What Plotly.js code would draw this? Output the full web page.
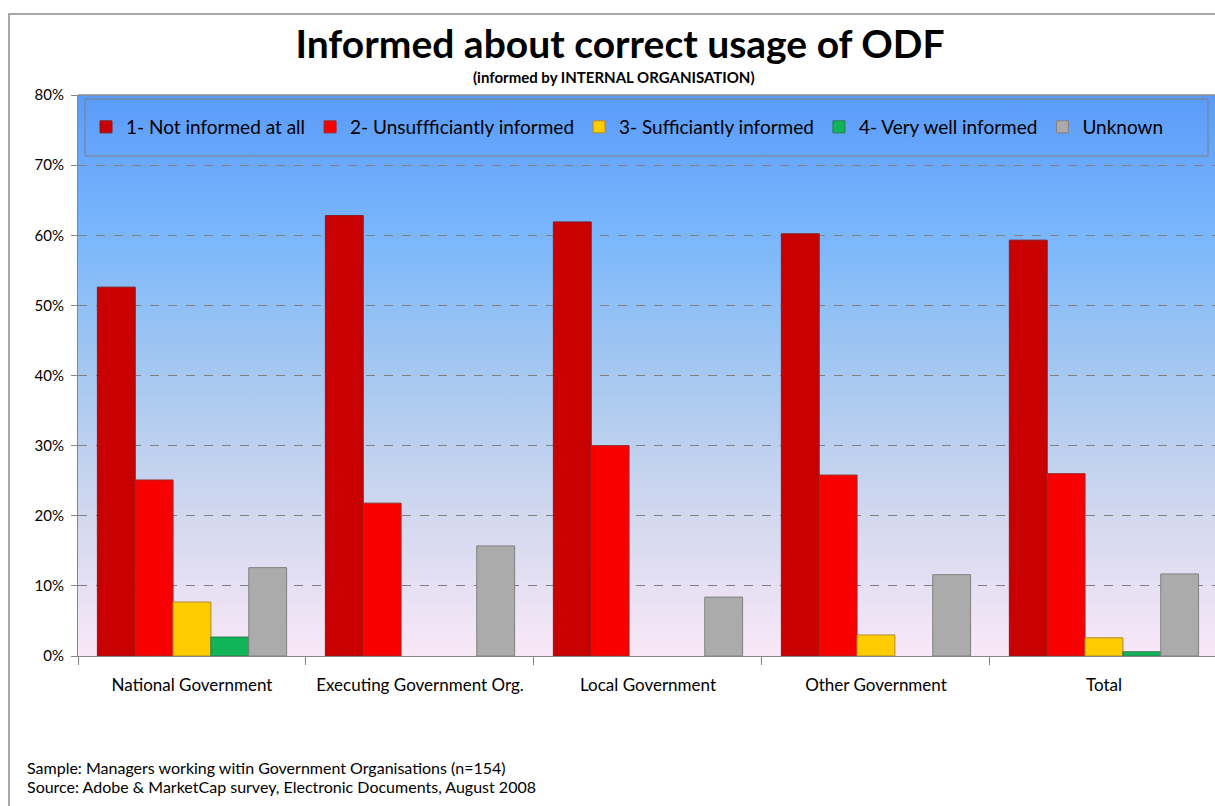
<!DOCTYPE html>
<html>
<head>
<meta charset="utf-8">
<script src="https://cdn.plot.ly/plotly-3.0.1.min.js"></script>
<style>html,body{margin:0;padding:0;background:#fff;}#chart{width:1215px;height:806px;}</style>
</head>
<body>
<div id="chart"></div>
<script>
const categories = ["National Government", "Executing Government Org.", "Local Government", "Other Government", "Total"];
const seriesNames = ["1- Not informed at all", "2- Unsuffficiantly informed", "3- Sufficiantly informed", "4- Very well informed", "Unknown"];
const notInformed = [52.6, 62.8, 61.9, 60.2, 59.3];
const insufficient = [25.1, 21.8, 30.0, 25.8, 26.0];
const sufficient = [7.7, null, null, 3.0, 2.6];
const veryWell = [2.7, null, null, null, 0.6];
const unknown = [12.6, 15.7, 8.4, 11.6, 11.7];
const yTicks = [0, 10, 20, 30, 40, 50, 60, 70, 80];

const seriesValues = [notInformed, insufficient, sufficient, veryWell, unknown];
const colors = ["#c80000", "#f80000", "#ffcc00", "#12b45a", "#ababab"];
const lineColors = ["#8a1a1a", "#9a2a2a", "#b08a30", "#2a7a4a", "#808080"];

const traces = seriesValues.map((vals, i) => ({
  type: "bar",
  name: seriesNames[i],
  x: categories,
  y: vals,
  marker: {color: colors[i], line: {color: lineColors[i], width: 1}},
  hoverinfo: "x+y+name"
}));

const svg = "<svg xmlns='http://www.w3.org/2000/svg' width='10' height='100' viewBox='0 0 10 100' preserveAspectRatio='none'><defs><linearGradient id='g' x1='0' y1='0' x2='0' y2='1'><stop offset='0' stop-color='#5a9bfa'/><stop offset='0.25' stop-color='#7ab7fb'/><stop offset='0.5' stop-color='#a6c8f0'/><stop offset='0.75' stop-color='#d2d8ef'/><stop offset='1' stop-color='#f9e8f7'/></linearGradient></defs><rect width='10' height='100' fill='url(#g)'/></svg>";
const bgSrc = "data:image/svg+xml;charset=utf-8," + encodeURIComponent(svg);

const font = "Lato, 'Open Sans', sans-serif";
const px = v => (v - 78) / 1137;
const py = v => (656 - v) / 561;

const layout = {
  width: 1215,
  height: 806,
  margin: {l: 78, r: 0, t: 95, b: 150},
  paper_bgcolor: "#ffffff",
  plot_bgcolor: "rgba(0,0,0,0)",
  font: {family: font, color: "#000"},
  showlegend: true,
  barmode: "group",
  bargap: 0.17,
  bargroupgap: 0,
  title: {
    text: "<b>Informed about correct usage of ODF</b>",
    font: {family: font, size: 39, color: "#000"},
    x: px(620), xanchor: "center", xref: "paper",
    y: 1 - 44/806, yanchor: "middle", yref: "container"
  },
  xaxis: {
    type: "category",
    range: [-0.5, 4.487],
    showline: true, linecolor: "#868686", linewidth: 1,
    ticks: "outside", tickson: "boundaries", ticklen: 8, tickcolor: "#868686",
    tickfont: {family: font, size: 17, color: "#000"},
    tickangle: 0,
    ticklabelstandoff: 14,
    showgrid: false, zeroline: false,
    fixedrange: true
  },
  yaxis: {
    range: [0, 80],
    tickvals: yTicks,
    ticktext: yTicks.map(v => v + "%"),
    showline: true, linecolor: "#868686", linewidth: 1,
    ticks: "outside", ticklen: 6, tickcolor: "#868686",
    tickfont: {family: font, size: 15, color: "#000"},
    ticklabelstandoff: 4,
    showgrid: true, gridcolor: "#808080", griddash: "dash", gridwidth: 1,
    zeroline: false,
    fixedrange: true
  },
  legend: {
    orientation: "h",
    x: px(86), xanchor: "left",
    y: py(127), yanchor: "middle",
    bgcolor: "rgba(0,0,0,0)",
    borderwidth: 0,
    font: {family: font, size: 19, color: "#000"},
    itemwidth: 30,
    traceorder: "normal"
  },
  images: [{
    source: bgSrc, xref: "paper", yref: "paper",
    x: 0, y: 1, sizex: 1, sizey: 1, xanchor: "left", yanchor: "top",
    sizing: "stretch", layer: "below"
  }],
  shapes: [
    {type: "rect", xref: "paper", yref: "paper", x0: px(9), x1: 1.02, y0: -0.28, y1: py(14),
     line: {color: "#8c8c8c", width: 1.5}, fillcolor: "rgba(0,0,0,0)", layer: "below"},
    {type: "line", xref: "paper", yref: "paper", x0: 0, x1: 1, y0: 1, y1: 1,
     line: {color: "#8c8c8c", width: 1.5}},
    {type: "rect", xref: "paper", yref: "paper", x0: px(85), x1: px(1208), y0: py(156), y1: py(99),
     line: {color: "#7f7f7f", width: 1}, fillcolor: "rgba(0,0,0,0)", layer: "above"}
  ],
  annotations: [
    {text: "<b>(informed by INTERNAL ORGANISATION)</b>", xref: "paper", yref: "paper",
     x: px(614), y: py(77), xanchor: "center", yanchor: "middle", showarrow: false,
     font: {family: font, size: 15, color: "#000"}},
    {text: "Sample: Managers working witin Government Organisations (n=154)", xref: "paper", yref: "paper",
     x: px(25), y: py(767), xanchor: "left", yanchor: "middle", showarrow: false,
     font: {family: font, size: 16, color: "#000"}},
    {text: "Source: Adobe & MarketCap survey, Electronic Documents, August 2008", xref: "paper", yref: "paper",
     x: px(25), y: py(787), xanchor: "left", yanchor: "middle", showarrow: false,
     font: {family: font, size: 16, color: "#000"}}
  ]
};

Plotly.newPlot("chart", traces, layout, {displayModeBar: false, responsive: false});
</script>
</body>
</html>
